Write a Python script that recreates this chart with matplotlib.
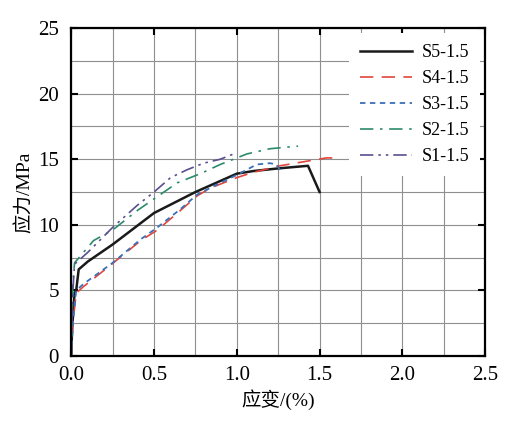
import matplotlib
matplotlib.use('Agg')
import matplotlib.pyplot as plt
from matplotlib.ticker import MultipleLocator

# data (strain %, stress MPa)
s5_x = [0, 0.005, 0.02, 0.03, 0.045, 0.1, 0.25, 0.5, 0.75, 1.0, 1.1, 1.25, 1.43, 1.5]
s5_y = [0, 2.0, 4.8, 5.0, 6.6, 7.2, 8.5, 10.9, 12.5, 13.9, 14.1, 14.3, 14.5, 12.5]

s4_x = [0, 0.01, 0.03, 0.075, 0.235, 0.42, 0.52, 0.66, 0.76, 0.84, 1.0, 1.1, 1.26, 1.4, 1.54, 1.58]
s4_y = [0, 2.5, 4.8, 5.3, 6.9, 8.8, 9.6, 11.1, 12.2, 12.8, 13.6, 14.0, 14.5, 14.8, 15.1, 15.1]

s3_x = [0, 0.01, 0.03, 0.075, 0.25, 0.42, 0.52, 0.66, 0.76, 0.9, 1.0, 1.12, 1.2, 1.24, 1.27]
s3_y = [0, 2.5, 5.0, 5.5, 7.1, 8.9, 9.8, 11.2, 12.3, 13.2, 13.8, 14.6, 14.7, 14.6, 14.0]

s2_x = [0, 0.01, 0.02, 0.135, 0.25, 0.4, 0.48, 0.64, 0.78, 0.9, 1.06, 1.2, 1.37]
s2_y = [0, 5.5, 7.1, 8.8, 9.6, 11.1, 11.8, 13.2, 13.9, 14.6, 15.4, 15.8, 16.0]

s1_x = [0, 0.01, 0.02, 0.1, 0.25, 0.4, 0.5, 0.6, 0.7, 0.8, 0.9, 1.0]
s1_y = [0, 5.0, 7.0, 7.9, 9.8, 11.5, 12.5, 13.6, 14.2, 14.7, 15.0, 15.5]

labels = ['S5-1.5', 'S4-1.5', 'S3-1.5', 'S2-1.5', 'S1-1.5']

serif = ['Liberation Serif', 'Noto Sans CJK SC']
plt.rcParams['font.family'] = serif

fig = plt.figure(figsize=(5.2, 4.32), dpi=100)
ax = fig.add_axes([0.137, 0.176, 0.796, 0.759])

ax.plot(s5_x, s5_y, color='#1a1a1a', lw=1.8, ls='-', label=labels[0])
ax.plot(s4_x, s4_y, color='#e0463c', lw=1.2, ls=(0, (8, 5)), label=labels[1])
ax.plot(s3_x, s3_y, color='#3a70b8', lw=1.3, ls=(0, (3, 2.5)), label=labels[2])
ax.plot(s2_x, s2_y, color='#2b8a6c', lw=1.2, ls=(0, (8, 4, 1.5, 4)), label=labels[3])
ax.plot(s1_x, s1_y, color='#5a4f8f', lw=1.2, ls=(0, (8, 3, 1.5, 3, 1.5, 3)), label=labels[4])

ax.set_xlim(0, 2.5)
ax.set_ylim(0, 25)
ax.xaxis.set_major_locator(MultipleLocator(0.5))
ax.xaxis.set_minor_locator(MultipleLocator(0.25))
ax.yaxis.set_major_locator(MultipleLocator(5))
ax.yaxis.set_minor_locator(MultipleLocator(2.5))
ax.set_xticklabels([f'{v:.1f}' for v in ax.get_xticks()])

ax.grid(which='both', color='#8f8f8f', lw=0.8)
ax.set_axisbelow(True)
ax.tick_params(which='major', direction='in', length=5, width=1.5,
               top=True, right=True, labelsize=15)
ax.tick_params(axis='x', which='major', pad=7)
ax.tick_params(axis='y', which='major', pad=9)
ax.tick_params(which='minor', length=0)
for sp in ax.spines.values():
    sp.set_linewidth(1.6)

ax.set_xlabel('应变/(%)', fontsize=14, family=serif, labelpad=3)
ax.set_ylabel('应力/MPa', fontsize=14, family=serif, labelpad=3)

leg = ax.legend(loc='upper right', fontsize=13, frameon=True, fancybox=False,
                handlelength=2.9, labelspacing=0.5, borderaxespad=0.3,
                borderpad=0.6, handletextpad=0.5)
leg.get_frame().set_edgecolor('none')
leg.get_frame().set_facecolor('white')
leg.get_frame().set_alpha(1)

fig.savefig('out.png', dpi=100)
